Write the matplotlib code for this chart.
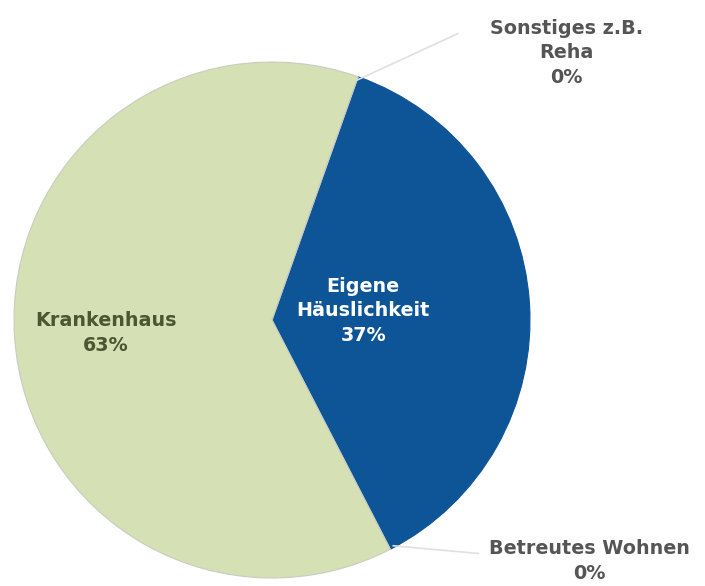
import matplotlib
matplotlib.use("Agg")
import matplotlib.pyplot as plt

# Where patients were cared for
categories = ["Eigene\nHäuslichkeit", "Betreutes Wohnen", "Krankenhaus", "Sonstiges z.B.\nReha"]
values = [37, 0, 63, 0]
colors = ["#0d5597", "#d5e0b5", "#d5e0b5", "#d5e0b5"]

W, H = 705, 586
cx, cy, r = 272, 320, 258

fig = plt.figure(figsize=(W / 100, H / 100), dpi=100)
ax = fig.add_axes([(cx - r) / W, (H - cy - r) / H, 2 * r / W, 2 * r / H])

wedges, _ = ax.pie(values, colors=colors, startangle=70.5, counterclock=False,
                   radius=1, wedgeprops=dict(linewidth=0.8, edgecolor="#c9ccc0"))
wedges[0].set_edgecolor("#0d5597")
ax.set_xlim(-1, 1)
ax.set_ylim(-1, 1)
ax.set_aspect("equal")
ax.axis("off")

font = dict(family=["DejaVu Sans"], fontweight="bold", fontsize=13.8,
            ha="center", va="center", linespacing=1.35)

def label(i):
    return f"{categories[i]}\n{values[i]}%"

ax.text(0.353, 0.035, label(0), color="white", **font)
ax.text(-0.643, -0.05, label(2), color="#4b5632", **font)
ax.text(1.14, 1.035, label(3), color="#555555", clip_on=False, **font)
ax.text(1.229, -0.934, label(1), color="#555555", clip_on=False, **font)

# leader lines for the empty slices
ax.plot([0.33, 0.72], [0.93, 1.11], color="#e0e0e0", lw=1.2, clip_on=False)
ax.plot([0.47, 0.80], [-0.875, -0.905], color="#e0e0e0", lw=1.2, clip_on=False)

fig.savefig("out.png", dpi=100, facecolor="white")
